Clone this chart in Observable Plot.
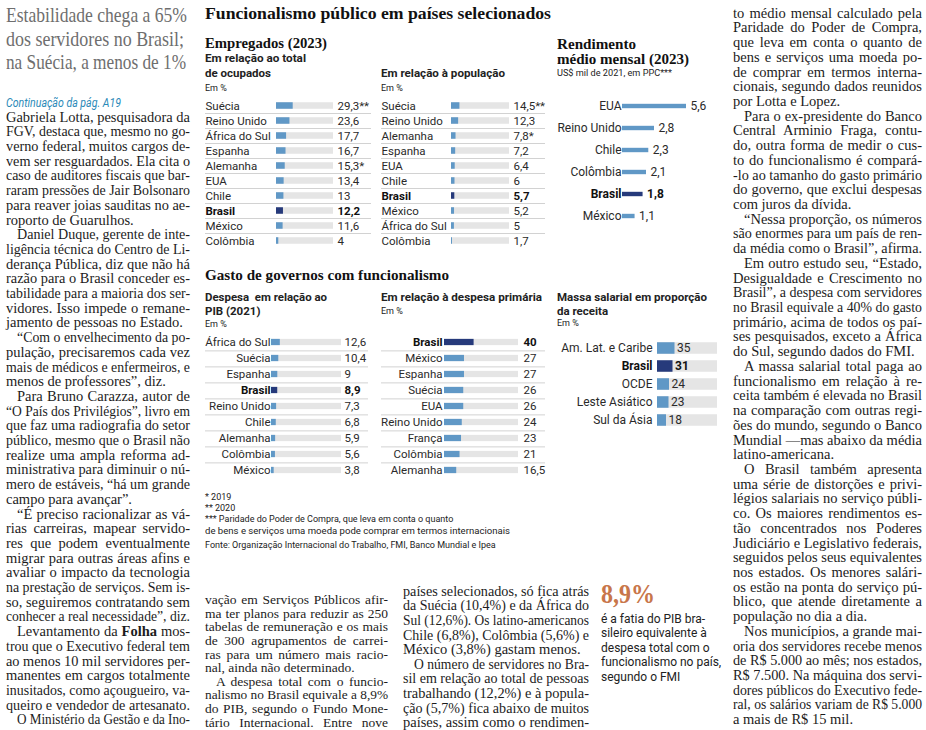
<!DOCTYPE html>
<html><head><meta charset="utf-8">
<script src="https://cdn.jsdelivr.net/npm/d3@7"></script>
<script src="https://cdn.jsdelivr.net/npm/@observablehq/plot@0.6"></script>
<style>
html,body{margin:0;padding:0;background:#fff;}
#page{position:relative;width:926px;height:730px;overflow:hidden;background:#fff;}
.t{position:absolute;white-space:pre;}
.t>span{display:inline-block;white-space:pre;transform-origin:0 50%;}
.pn{position:absolute;}
.pn svg{overflow:visible;background:transparent;}
</style></head>
<body><div id="page"></div>
<script>
// ---------- chart data ----------
const empTotalPaises = ["Suécia","Reino Unido","África do Sul","Espanha","Alemanha","EUA","Chile","Brasil","México","Colômbia"];
const empTotalValores = [29.3,23.6,17.7,16.7,15.3,13.4,13,12.2,11.6,4];
const empTotalNotas = ["**","","","","*","","","","",""];

const empPopPaises = ["Suécia","Reino Unido","Alemanha","Espanha","EUA","Chile","Brasil","México","África do Sul","Colômbia"];
const empPopValores = [14.5,12.3,7.8,7.2,6.4,6,5.7,5.2,5,1.7];
const empPopNotas = ["**","","*","","","","","","",""];

const rendPaises = ["EUA","Reino Unido","Chile","Colômbia","Brasil","México"];
const rendValores = [5.6,2.8,2.3,2.1,1.8,1.1];

const pibPaises = ["África do Sul","Suécia","Espanha","Brasil","Reino Unido","Chile","Alemanha","Colômbia","México"];
const pibValores = [12.6,10.4,9,8.9,7.3,6.8,5.9,5.6,3.8];

const primPaises = ["Brasil","México","Espanha","Suécia","EUA","Reino Unido","França","Colômbia","Alemanha"];
const primValores = [40,27,27,26,26,24,23,21,16.5];

const massaRegioes = ["Am. Lat. e Caribe","Brasil","OCDE","Leste Asiático","Sul da Ásia"];
const massaValores = [35,31,24,23,18];

const notasRodape = ["* 2019","** 2020","*** Paridade do Poder de Compra, que leva em conta o quanto","de bens e serviços uma moeda pode comprar em termos internacionais","Fonte: Organização Internacional do Trabalho, FMI, Banco Mundial e Ipea"];

// ---------- article text ----------
const manchete = ["Estabilidade chega a 65%","dos servidores no Brasil;","na Suécia, a menos de 1%"];
const colEsq = [
"Gabriela Lotta, pesquisadora da","FGV, destaca que, mesmo no go-","verno federal, muitos cargos de-","vem ser resguardados. Ela cita o","caso de auditores fiscais que bar-","raram pressões de Jair Bolsonaro","para reaver joias sauditas no ae-","roporto de Guarulhos.«",
"»Daniel Duque, gerente de inte-","ligência técnica do Centro de Li-","derança Pública, diz que não há","razão para o Brasil conceder es-","tabilidade para a maioria dos ser-","vidores. Isso impede o remane-","jamento de pessoas no Estado.«",
"»“Com o envelhecimento da po-","pulação, precisaremos cada vez","mais de médicos e enfermeiros, e","menos de professores”, diz.«",
"»Para Bruno Carazza, autor de","“O País dos Privilégios”, livro em","que faz uma radiografia do setor","público, mesmo que o Brasil não","realize uma ampla reforma ad-","ministrativa para diminuir o nú-","mero de estáveis, “há um grande","campo para avançar”.«",
"»“É preciso racionalizar as vá-","rias carreiras, mapear servido-","res que podem eventualmente","migrar para outras áreas afins e","avaliar o impacto da tecnologia","na prestação de serviços. Sem is-","so, seguiremos contratando sem","conhecer a real necessidade”, diz.",
"»Levantamento da <b>Folha</b> mos-","trou que o Executivo federal tem","ao menos 10 mil servidores per-","manentes em cargos totalmente","inusitados, como açougueiro, va-","queiro e vendedor de artesanato.«",
"»O Ministério da Gestão e da Ino-"];
const colMeio1 = ["vação em Serviços Públicos afir-","ma ter planos para reduzir as 250","tabelas de remuneração e os mais","de 300 agrupamentos de carrei-","ras para um número mais racio-","nal, ainda não determinado.«","»A despesa total com o funcio-","nalismo no Brasil equivale a 8,9%","do PIB, segundo o Fundo Mone-","tário Internacional. Entre nove"];
const colMeio2 = ["países selecionados, só fica atrás","da Suécia (10,4%) e da África do","Sul (12,6%). Os latino-americanos","Chile (6,8%), Colômbia (5,6%) e","México (3,8%) gastam menos.«","»O número de servidores no Bra-","sil em relação ao total de pessoas","trabalhando (12,2%) e à popula-","ção (5,7%) fica abaixo de muitos","países, assim como o rendimen-"];
const colDir = [
"to médio mensal calculado pela","Paridade do Poder de Compra,","que leva em conta o quanto de","bens e serviços uma moeda po-","de comprar em termos interna-","cionais, segundo dados reunidos","por Lotta e Lopez.«",
"»Para o ex-presidente do Banco","Central Arminio Fraga, contu-","do, outra forma de medir o cus-","to do funcionalismo é compará-","-lo ao tamanho do gasto primário","do governo, que exclui despesas","com juros da dívida.«",
"»“Nessa proporção, os números","são enormes para um país de ren-","da média como o Brasil”, afirma.«",
"»Em outro estudo seu, “Estado,","Desigualdade e Crescimento no","Brasil”, a despesa com servidores","no Brasil equivale a 40% do gasto","primário, acima de todos os paí-","ses pesquisados, exceto a África","do Sul, segundo dados do FMI.«",
"»A massa salarial total paga ao","funcionalismo em relação à re-","ceita também é elevada no Brasil","na comparação com outras regi-","ões do mundo, segundo o Banco","Mundial —mas abaixo da média","latino-americana.«",
"»O Brasil também apresenta","uma série de distorções e privi-","légios salariais no serviço públi-","co. Os maiores rendimentos es-","tão concentrados nos Poderes","Judiciário e Legislativo federais,","seguidos pelos seus equivalentes","nos estados. Os menores salári-","os estão na ponta do serviço pú-","blico, que atende diretamente a","população no dia a dia.«",
"»Nos municípios, a grande mai-","oria dos servidores recebe menos","de R$ 5.000 ao mês; nos estados,","R$ 7.500. Na máquina dos servi-","dores públicos do Executivo fede-","ral, os salários variam de R$ 5.000","a mais de R$ 15 mil.«"];
const destaqueNum = "8,9%";
const destaqueTxt = ["é a fatia do PIB bra-","sileiro equivalente à","despesa total com o","funcionalismo no país,","segundo o FMI"];

// ---------- styles ----------
const SERIF = "'Liberation Serif', 'DejaVu Serif', serif";
const SANS = "Roboto, 'Noto Sans', sans-serif";
const BLUE = "#6098c6", NAVY = "#263a7b", TRACK = "#e5e5e5", SEP = "#d2d2d2", INK = "#222";
const page = document.getElementById("page");

function addText(x, cy, html, font, opts = {}) {
  const d = document.createElement("div");
  d.className = "t";
  const lh = opts.lh || 16;
  d.style.font = font;
  d.style.lineHeight = lh + "px";
  d.style.left = x + "px";
  d.style.top = (cy - lh / 2) + "px";
  d.style.color = opts.color || INK;
  const s = document.createElement("span");
  s.innerHTML = html;
  if (opts.fit) s.dataset.fit = opts.fit;
  d.appendChild(s);
  page.appendChild(d);
}

function column(x, cy0, lh, w, lines, font, color) {
  lines.forEach((raw, i) => {
    let t = raw, indent = 0, just = true;
    if (t.startsWith("»")) { indent = 11; t = t.slice(1); }
    if (t.endsWith("«")) { just = false; t = t.slice(0, -1); }
    const d = document.createElement("div");
    d.className = "t";
    d.style.font = font;
    d.style.lineHeight = lh + "px";
    d.style.left = (x + indent) + "px";
    d.style.top = (cy0 + i * lh - lh / 2) + "px";
    d.style.color = color;
    const s = document.createElement("span");
    s.innerHTML = t;
    s.dataset.w = w - indent;
    s.dataset.j = just ? "1" : "0";
    d.appendChild(s);
    page.appendChild(d);
  });
}

// headline + article
manchete.forEach((t, i) => addText(6, [15, 38.5, 62][i], t, `21px ${SERIF}`, {color: "#6e6e6e", lh: 24, fit: [181, 178, 180][i]}));
addText(6, 103, "Continuação da pág. A19", `italic 12px ${SANS}`, {color: "#2b8ab8", fit: 115});
const BODY = `14.5px ${SERIF}`;
column(6, 117, 14.7, 184, colEsq, BODY, "#1c1c1c");
column(205, 600, 13.6, 183, colMeio1, `13.5px ${SERIF}`, "#1c1c1c");
column(403, 591, 14.6, 186, colMeio2, BODY, "#1c1c1c");
column(733, 13, 14.72, 189, colDir, BODY, "#1c1c1c");

addText(601, 594, destaqueNum, `bold 27px ${SERIF}`, {color: "#c8764a", lh: 30, fit: 54});
destaqueTxt.forEach((t, i) => addText(601, 619 + i * 14.4, t, `12px ${SANS}`, {color: "#222", lh: 14}));

// chart headings
const HB = (s) => `bold ${s}px ${SERIF}`;
const SB = `bold 11.5px ${SANS}`;
const SM = `9px ${SANS}`;
addText(205, 14, "Funcionalismo público em países selecionados", HB(17), {color: "#111", lh: 20, fit: 346});
addText(205, 43, "Empregados (2023)", HB(15), {color: "#111", lh: 18, fit: 122});
addText(205, 58, "Em relação ao total", SB, {lh: 14, fit: 101});
addText(205, 73, "de ocupados", SB, {lh: 14});
addText(205, 88, "Em %", SM, {lh: 11});
addText(381, 73, "Em relação à população", SB, {lh: 14, fit: 124});
addText(381, 88, "Em %", SM, {lh: 11});
addText(557, 44, "Rendimento", HB(15), {color: "#111", lh: 18, fit: 79});
addText(557, 59, "médio mensal (2023)", HB(15), {color: "#111", lh: 18, fit: 132});
addText(557, 73, "US$ mil de 2021, em PPC***", SM, {lh: 11, fit: 115});
addText(205, 275, "Gasto de governos com funcionalismo", HB(15), {color: "#111", lh: 18, fit: 244});
addText(205, 297, "Despesa  em relação ao", SB, {lh: 14, fit: 122});
addText(205, 311, "PIB (2021)", SB, {lh: 14});
addText(205, 324, "Em %", SM, {lh: 11});
addText(381, 297, "Em relação à despesa primária", SB, {lh: 14, fit: 161});
addText(381, 311, "Em %", SM, {lh: 11});
addText(557, 297, "Massa salarial em proporção", SB, {lh: 14, fit: 150});
addText(557, 311, "da receita", SB, {lh: 14});
addText(557, 323, "Em %", SM, {lh: 11});
notasRodape.forEach((t, i) => addText(205, [497, 508, 519.5, 531, 545][i], t, SM, {lh: 11, color: "#222", fit: i === 3 ? 305 : null}));

// ---------- Plot panels ----------
const fmt = v => String(v).replace(".", ",");
function panel(cfg) {
  const data = cfg.names.map((name, i) => ({name, v: cfg.values[i], note: cfg.notes ? cfg.notes[i] : ""}));
  const bw = (cfg.yRange[1] - cfg.yRange[0]) / data.length;
  const inset = (bw - cfg.barH) / 2;
  const isB = d => d.name === "Brasil";
  const fs = cfg.fontSize || 11.5;
  const marks = [];
  if (cfg.seps) marks.push(Plot.ruleY(data.slice(0, -1), {y: "name", dy: bw / 2, stroke: SEP, strokeWidth: 1}));
  if (cfg.track != null) marks.push(Plot.barX(data, {y: "name", x1: 0, x2: cfg.track, fill: TRACK, insetTop: inset, insetBottom: inset}));
  marks.push(Plot.barX(data, {y: "name", x1: 0, x2: "v", fill: d => isB(d) ? NAVY : BLUE, insetTop: inset, insetBottom: inset}));
  for (const bold of [false, true]) {
    const filt = d => isB(d) === bold;
    const common = {filter: filt, y: "name", fontSize: fs, fill: bold ? "#111" : "#2a2a2a", fontWeight: bold ? "bold" : "normal"};
    if (cfg.label === "left") marks.push(Plot.text(data, {...common, text: "name", frameAnchor: "left", textAnchor: "start"}));
    else marks.push(Plot.text(data, {...common, text: "name", x: 0, dx: -cfg.labelGap, textAnchor: "end"}));
    const vt = d => fmt(d.v) + d.note;
    if (cfg.value === "track") marks.push(Plot.text(data, {...common, text: vt, x: cfg.track, dx: cfg.valueGap, textAnchor: "start"}));
    else marks.push(Plot.text(data, {...common, text: vt, x: "v", dx: cfg.valueGap, textAnchor: "start"}));
  }
  const chart = Plot.plot({
    width: cfg.width, height: cfg.height, margin: 0,
    x: {axis: null, domain: cfg.xDomain, range: cfg.xRange},
    y: {axis: null, type: "band", domain: cfg.names, range: cfg.yRange, padding: 0},
    color: {type: "identity"},
    style: {fontFamily: SANS, background: "transparent", overflow: "visible"},
    marks
  });
  const w = document.createElement("div");
  w.className = "pn";
  w.style.left = cfg.left + "px";
  w.style.top = cfg.top + "px";
  w.appendChild(chart);
  page.appendChild(w);
}

panel({names: empTotalPaises, values: empTotalValores, notes: empTotalNotas, left: 205, top: 95, width: 166, height: 155,
  yRange: [2.5, 152.5], xDomain: [0, 100], xRange: [71, 128], track: 100, barH: 6.5, label: "left", value: "track", valueGap: 4, seps: true});
panel({names: empPopPaises, values: empPopValores, notes: empPopNotas, left: 381, top: 95, width: 164, height: 155,
  yRange: [2.5, 152.5], xDomain: [0, 100], xRange: [70, 128], track: 100, barH: 6.5, label: "left", value: "track", valueGap: 4, seps: true});
panel({names: rendPaises, values: rendValores, left: 557, top: 92, width: 165, height: 137,
  yRange: [0.7, 136.3], xDomain: [0, 5.6], xRange: [65, 129], barH: 5, label: "right", labelGap: 1, value: "bar", valueGap: 4, seps: false, fontSize: 12});
panel({names: pibPaises, values: pibValores, left: 205, top: 330, width: 163, height: 152,
  yRange: [0.625, 151.375], xDomain: [0, 100], xRange: [66, 136], track: 100, barH: 7, label: "right", labelGap: 1, value: "track", valueGap: 3, seps: true});
panel({names: primPaises, values: primValores, left: 381, top: 330, width: 164, height: 152,
  yRange: [0.625, 151.375], xDomain: [0, 100], xRange: [63, 137], track: 100, barH: 7, label: "right", labelGap: 2, value: "track", valueGap: 5, seps: true});
panel({names: massaRegioes, values: massaValores, left: 557, top: 336, width: 165, height: 96,
  yRange: [1.75, 94.25], xDomain: [0, 120], xRange: [100, 160], track: 120, barH: 12, label: "right", labelGap: 5, value: "bar", valueGap: 2, seps: false, fontSize: 12});

// ---------- fit text lines ----------
function fitAll() {
  document.querySelectorAll("span[data-w]").forEach(s => {
    s.style.transform = ""; s.style.wordSpacing = "";
    const W = +s.dataset.w, w = s.getBoundingClientRect().width;
    if (w > W) s.style.transform = `scaleX(${W / w})`;
    else if (s.dataset.j === "1") {
      const n = (s.textContent.match(/ /g) || []).length;
      if (n) s.style.wordSpacing = ((W - w) / n) + "px";
    }
  });
  document.querySelectorAll("span[data-fit]").forEach(s => {
    s.style.transform = "";
    const W = +s.dataset.fit, w = s.getBoundingClientRect().width;
    if (W && w) s.style.transform = `scaleX(${W / w})`;
  });
}
fitAll();
if (document.fonts && document.fonts.ready) document.fonts.ready.then(fitAll);
</script>
</body></html>
